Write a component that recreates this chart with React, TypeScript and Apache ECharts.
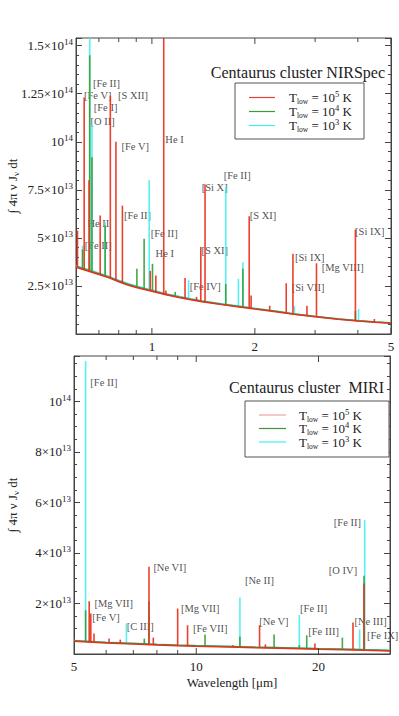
import React, { useEffect, useRef } from 'react';
import * as echarts from 'echarts';

// ---------------- data (wavelength in µm, flux in units of 1e13) ----------------
const nirContHot = [[0.6,3.47],[0.65,3.28],[0.7,3.1],[0.75,2.92],[0.8,2.72],[0.85,2.55],[0.9,2.42],[1.0,2.22],[1.1,2.04],[1.2,1.9],[1.3,1.78],[1.4,1.68],[1.6,1.53],[1.8,1.41],[2.0,1.3],[2.3,1.16],[2.6,1.03],[3.0,0.9],[3.5,0.77],[4.0,0.68],[4.5,0.61],[5.0,0.56]];
const nirContWarm = [[0.6,3.51],[0.65,3.32],[0.7,3.14],[0.75,2.96],[0.8,2.76],[0.85,2.59],[0.9,2.46],[1.0,2.25],[1.1,2.07],[1.2,1.93],[1.3,1.81],[1.4,1.7],[1.6,1.55],[1.8,1.43],[2.0,1.32],[2.3,1.18],[2.6,1.04],[3.0,0.91],[3.5,0.78],[4.0,0.69],[4.5,0.62],[5.0,0.57]];
const nirContCool = [[0.6,3.55],[0.65,3.36],[0.7,3.18],[0.75,3.0],[0.8,2.8],[0.85,2.63],[0.9,2.5],[1.0,2.29],[1.1,2.1],[1.2,1.96],[1.3,1.84],[1.4,1.73],[1.6,1.58],[1.8,1.46],[2.0,1.34],[2.3,1.2],[2.6,1.06],[3.0,0.93],[3.5,0.8],[4.0,0.7],[4.5,0.63],[5.0,0.58]];

// [wavelength, base, T=1e5, T=1e4, T=1e3]  (0 = no line)
const nirLines = [
  [0.606, 3.44, 5.38, 0, 0],
  [0.627, 3.36, 0, 4.4, 4.6],
  [0.634, 3.33, 12.3, 0, 0],
  [0.655, 3.26, 8.0, 0, 0],
  [0.658, 3.25, 0, 14.5, 16.5],
  [0.668, 3.21, 0, 9.2, 10.9],
  [0.706, 3.08, 6.16, 0, 0],
  [0.730, 3.0, 0, 5.64, 5.8],
  [0.756, 2.92, 12.4, 0, 0],
  [0.785, 2.8, 10.0, 0, 0],
  [0.820, 2.67, 6.68, 0, 0],
  [0.904, 2.41, 0, 3.39, 0],
  [0.949, 2.32, 0, 4.95, 0],
  [0.982, 2.25, 0, 0, 8.0],
  [0.989, 2.24, 3.28, 0, 0],
  [1.004, 2.21, 0, 3.65, 0],
  [1.027, 2.17, 3.04, 0, 0],
  [1.083, 2.07, 16.5, 0, 0],
  [1.099, 2.05, 2.26, 0, 0],
  [1.17, 1.94, 0, 2.19, 0],
  [1.25, 1.84, 2.92, 0, 0],
  [1.28, 1.81, 0, 0, 2.8],
  [1.35, 1.73, 1.93, 0, 0],
  [1.39, 1.70, 4.52, 0, 0],
  [1.43, 1.66, 7.78, 0, 0],
  [1.644, 1.52, 0, 2.6, 7.66],
  [1.79, 1.43, 0, 0, 2.87],
  [1.845, 1.40, 0, 3.4, 3.73],
  [1.925, 1.35, 6.13, 0, 0],
  [1.95, 1.34, 2.0, 0, 0],
  [2.21, 1.22, 1.47, 0, 0],
  [2.47, 1.10, 2.64, 0, 0],
  [2.584, 1.06, 4.17, 0, 0],
  [2.61, 1.05, 0, 0, 1.46],
  [2.84, 0.96, 1.47, 0, 0],
  [3.028, 0.9, 3.68, 0, 0],
  [3.935, 0.69, 5.43, 1.2, 0],
  [4.02, 0.68, 0, 0, 1.3],
  [4.47, 0.61, 0.78, 0, 0],
];

const nirLabels: [number, number, string][] = [
  [0.670, 13.05, '[Fe II]'],
  [0.631, 12.40, '[Fe V]'],
  [0.793, 12.40, '[S XII]'],
  [0.674, 11.79, '[Fe I]'],
  [0.659, 11.06, '[O II]'],
  [0.812, 9.73, '[Fe V]'],
  [1.091, 10.11, 'He I'],
  [0.826, 6.16, '[Fe II]'],
  [0.646, 5.73, 'He II'],
  [0.989, 5.21, '[Fe II]'],
  [0.634, 4.60, '[Fe II]'],
  [1.022, 4.17, 'He I'],
  [1.616, 8.25, '[Fe II]'],
  [1.394, 7.64, '[Si X]'],
  [1.925, 6.16, '[S XI]'],
  [1.391, 4.34, '[S XI]'],
  [1.285, 2.45, '[Fe IV]'],
  [2.612, 4.0, '[Si IX]'],
  [3.126, 3.47, '[Mg VIII]'],
  [2.555, 2.43, '[Si VII]'],
  [3.912, 5.33, '[Si IX]'],
];

const miriContHot = [[5,0.5],[6,0.44],[7,0.4],[8,0.36],[9,0.33],[10,0.31],[12,0.28],[14,0.25],[16,0.23],[18,0.21],[20,0.19],[23,0.17],[26,0.145],[30,0.12]];
const miriContWarm = [[5,0.52],[6,0.46],[7,0.42],[8,0.38],[9,0.35],[10,0.33],[12,0.3],[14,0.27],[16,0.25],[18,0.23],[20,0.21],[23,0.19],[26,0.165],[30,0.14]];
const miriContCool = [[5,0.53],[6,0.47],[7,0.43],[8,0.39],[9,0.36],[10,0.34],[12,0.31],[14,0.28],[16,0.26],[18,0.24],[20,0.22],[23,0.2],[26,0.175],[30,0.15]];

const miriLines = [
  [5.34, 0.5, 0, 1.73, 11.6],
  [5.45, 0.49, 2.09, 0, 0],
  [5.50, 0.49, 1.6, 0, 0],
  [5.60, 0.48, 0.81, 0, 0],
  [6.10, 0.45, 0.61, 0, 0],
  [6.50, 0.42, 0.57, 0, 0],
  [6.73, 0.41, 0, 0, 1.21],
  [7.45, 0.38, 0, 0.61, 0.5],
  [7.65, 0.37, 3.45, 2.08, 0],
  [7.84, 0.36, 0.65, 0, 0],
  [9.0, 0.33, 1.8, 0, 0],
  [9.52, 0.32, 1.14, 0, 0],
  [10.51, 0.3, 0, 0.77, 0],
  [12.3, 0.28, 0.35, 0, 0],
  [12.81, 0.27, 0, 0.68, 2.24],
  [14.32, 0.25, 1.14, 0, 0],
  [14.8, 0.245, 0.38, 0, 0],
  [15.55, 0.235, 0, 0.77, 0],
  [17.94, 0.21, 0, 0.35, 1.54],
  [18.71, 0.2, 0, 0.74, 0],
  [19.6, 0.195, 0.42, 0, 0],
  [22.9, 0.17, 0, 0.65, 0],
  [24.32, 0.16, 1.25, 0, 0],
  [25.25, 0.155, 0, 0, 0.97],
  [25.89, 0.15, 2.79, 3.1, 0],
  [25.99, 0.15, 0, 0, 5.3],
];

const miriLabels: [number, number, string][] = [
  [5.47, 10.75, '[Fe II]'],
  [5.60, 2.0, '[Mg VII]'],
  [5.53, 1.43, '[Fe V]'],
  [6.72, 1.08, '[C III]'],
  [7.82, 3.43, '[Ne VI]'],
  [9.14, 1.80, '[Mg VII]'],
  [9.79, 1.01, '[Fe VII]'],
  [13.15, 2.92, '[Ne II]'],
  [14.26, 1.30, '[Ne V]'],
  [17.97, 1.80, '[Fe II]'],
  [18.82, 0.88, '[Fe III]'],
  [21.15, 3.29, '[O IV]'],
  [21.76, 5.21, '[Fe II]'],
  [24.45, 1.28, '[Ne III]'],
  [26.26, 0.72, '[Fe IX]'],
];

const nirXTicks = [0.7, 0.8, 0.9, 1, 2, 3, 4, 5];
const nirXTickLabels = [1, 2, 5];
const miriXTicks = [6, 7, 8, 9, 10, 20];
const miriXTickLabels = [5, 10, 20];
const legendExponents = ['5', '4', '3'];
const titles = ['Centaurus cluster NIRSpec', 'Centaurus cluster\u00a0 MIRI'];

// ---------------- layout & style ----------------
const FONT = '"Liberation Serif", "Times New Roman", "DejaVu Serif", serif';
const INK = '#222';
const AXIS = '#444';
const RED = '#e8301c';
const GREEN = '#35a03a';
const CYAN = '#46f0f0';
const GRIDS = [
  { left: 76, top: 38, width: 315, height: 296 },
  { left: 74, top: 356, width: 316, height: 298 },
];
const NAME_GAPS = [56, 54];
const XR = [[0.6, 5], [5, 30]];
const YMAX = [15.4, 11.8];
const YINT = [2.5, 2];
const YMINOR = [5, 4];

function yFmt(interval: number) {
  return (v: number) => {
    if (v <= 0) return '';
    const k = v / interval;
    if (Math.abs(k - Math.round(k)) > 1e-6) return '';
    const val = v * 1e13;
    const e = Math.floor(Math.log10(val) + 1e-9);
    const m = Math.round((val / Math.pow(10, e)) * 100) / 100;
    return m === 1 ? `{b|10}{s|${e}}` : `{b|${m}×10}{s|${e}}`;
  };
}

const yRich = {
  b: { fontSize: 13, fontFamily: FONT, color: INK, lineHeight: 16 },
  s: { fontSize: 9, fontFamily: FONT, color: INK, lineHeight: 8, verticalAlign: 'top' },
};

function spikeRender(color: string) {
  return (params: any, api: any) => {
    const x = api.value(0);
    const p0 = api.coord([x, api.value(1)]);
    const p1 = api.coord([x, api.value(2)]);
    return {
      type: 'line',
      shape: { x1: p0[0], y1: p0[1], x2: p1[0], y2: p1[1] },
      style: { stroke: color, lineWidth: 1.6, opacity: 0.92 },
    };
  };
}

function panelSeries(i: number, conts: number[][][], lines: number[][], labels: [number, number, string][]) {
  const colors = [CYAN, GREEN, RED];
  const cols = [4, 3, 2];
  const out: any[] = [];
  out.push({
    type: 'scatter', xAxisIndex: i, yAxisIndex: i * 2, z: 1, silent: true,
    symbolSize: 1, itemStyle: { color: 'rgba(0,0,0,0)' },
    data: labels.map(([x, y, t]) => ({ value: [x, y], name: t })),
    label: { show: true, position: 'right', distance: 0, formatter: '{b}', color: INK, fontSize: 10.5, fontFamily: FONT },
  });
  colors.forEach((c, k) => {
    out.push({
      type: 'line', xAxisIndex: i, yAxisIndex: i * 2, z: 2 + k, silent: true,
      data: conts[k], showSymbol: false, symbol: 'none',
      lineStyle: { color: c, width: 1.5 },
    });
    out.push({
      type: 'custom', xAxisIndex: i, yAxisIndex: i * 2, z: 2 + k, silent: true, clip: true,
      data: lines.filter((r) => r[cols[k]] > 0).map((r) => [r[0], r[1], r[cols[k]]]),
      encode: { x: 0, y: [1, 2] },
      renderItem: spikeRender(c),
    });
  });
  return out;
}

function buildOption() {
  const xAxis = [0, 1].map((i) => ({
    type: 'log', logBase: 10, gridIndex: i, min: XR[i][0], max: XR[i][1],
    axisLine: { show: true, lineStyle: { color: AXIS, width: 1 } },
    axisTick: { show: false }, axisLabel: { show: false }, splitLine: { show: false },
    minorTick: { show: false },
    name: i === 1 ? 'Wavelength [μm]' : '',
    nameLocation: 'middle', nameGap: 22, nameMoveOverlap: false,
    nameTextStyle: { fontSize: 13, fontFamily: FONT, color: INK },
  }));
  const yAxis: any[] = [];
  [0, 1].forEach((i) => {
    const common = {
      type: 'value', gridIndex: i, min: 0, max: YMAX[i], interval: YINT[i],
      axisLine: { show: true, lineStyle: { color: AXIS, width: 1 } },
      axisTick: { show: true, inside: true, length: 6, lineStyle: { color: AXIS } },
      minorTick: { show: true, splitNumber: YMINOR[i], length: 3, lineStyle: { color: AXIS } },
      splitLine: { show: false }, minorSplitLine: { show: false },
    };
    yAxis.push({
      ...common, position: 'left',
      axisLabel: { formatter: yFmt(YINT[i]), rich: yRich, margin: 3, showMaxLabel: false },
      name: '{a|∫ 4π ν J}{s|ν}{a| dt}', nameLocation: 'middle', nameRotate: 90,
      nameGap: NAME_GAPS[i], nameMoveOverlap: false,
      nameTextStyle: {
        rich: {
          a: { fontSize: 13, fontFamily: FONT, color: INK, lineHeight: 16 },
          s: { fontSize: 9, fontFamily: FONT, color: INK, lineHeight: 8, verticalAlign: 'bottom' },
        },
      },
    });
    yAxis.push({ ...common, position: 'right', axisLabel: { show: false } });
  });
  return {
    animation: false,
    backgroundColor: '#fff',
    grid: GRIDS.map((g) => ({
      ...g, show: true, borderColor: AXIS, borderWidth: 1, backgroundColor: 'transparent',
      containLabel: false, outerBoundsMode: 'none',
    })),
    xAxis, yAxis,
    series: [
      ...panelSeries(0, [nirContCool, nirContWarm, nirContHot], nirLines, nirLabels),
      ...panelSeries(1, [miriContCool, miriContWarm, miriContHot], miriLines, miriLabels),
    ],
  };
}

function legendGraphics(box: { x: number; y: number; w: number; h: number }, lineX: [number, number], textX: number, rows: number[], colors: string[]) {
  const els: any[] = [];
  els.push({ type: 'rect', shape: { x: box.x, y: box.y, width: box.w, height: box.h }, style: { fill: '#fff', stroke: '#555', lineWidth: 1 }, z: 20, silent: true });
  rows.forEach((y, k) => {
    els.push({ type: 'line', shape: { x1: lineX[0], y1: y, x2: lineX[1], y2: y }, style: { stroke: colors[k], lineWidth: 1.2 }, z: 21, silent: true });
    els.push({
      type: 'text', x: textX, y, z: 21, silent: true,
      style: {
        text: `{a|T}{sub|low}{a| = 10}{sup|${legendExponents[k]}}{a| K}`,
        verticalAlign: 'middle', align: 'left',
        rich: {
          a: { fontSize: 13, fontFamily: FONT, fill: INK, lineHeight: 16 },
          sub: { fontSize: 7.5, fontFamily: FONT, fill: INK, lineHeight: 9, verticalAlign: 'bottom' },
          sup: { fontSize: 8.5, fontFamily: FONT, fill: INK, lineHeight: 8, verticalAlign: 'top' },
        },
      },
    });
  });
  return els;
}

function buildGraphics(chart: any) {
  const els: any[] = [];
  const panels = [
    { ticks: nirXTicks, labels: nirXTickLabels },
    { ticks: miriXTicks, labels: miriXTickLabels },
  ];
  panels.forEach((p, i) => {
    const g = GRIDS[i];
    const bottom = g.top + g.height;
    p.ticks.forEach((t) => {
      const px = chart.convertToPixel({ xAxisIndex: i }, t);
      const len = p.labels.includes(t) ? 6 : 4;
      els.push({ type: 'line', shape: { x1: px, y1: bottom, x2: px, y2: bottom - len }, style: { stroke: AXIS, lineWidth: 1 }, silent: true, z: 15 });
      els.push({ type: 'line', shape: { x1: px, y1: g.top, x2: px, y2: g.top + len }, style: { stroke: AXIS, lineWidth: 1 }, silent: true, z: 15 });
    });
    p.labels.forEach((t) => {
      const px = chart.convertToPixel({ xAxisIndex: i }, t);
      els.push({ type: 'text', x: px, y: bottom + 12, silent: true, style: { text: String(t), align: 'center', verticalAlign: 'middle', fontSize: 13, fontFamily: FONT, fill: INK } });
    });
  });
  els.push({ type: 'text', x: 385, y: 72, silent: true, z: 20, style: { text: titles[0], align: 'right', verticalAlign: 'middle', fontSize: 16, fontFamily: FONT, fill: INK } });
  els.push({ type: 'text', x: 384, y: 387, silent: true, z: 20, style: { text: titles[1], align: 'right', verticalAlign: 'middle', fontSize: 16, fontFamily: FONT, fill: INK } });
  els.push(...legendGraphics({ x: 235, y: 83, w: 129, h: 56 }, [249, 275], 289, [97.5, 111.5, 125.5], ['#e04040', '#3a9a3a', '#40f0f0']));
  els.push(...legendGraphics({ x: 245, y: 401, w: 144, h: 56 }, [259, 286], 299, [415, 428.5, 442], ['#f4a0a0', '#3a9a3a', '#40f0f0']));
  return els;
}

export default function App() {
  const ref = useRef<HTMLDivElement>(null);
  useEffect(() => {
    const chart = echarts.init(ref.current!, null, { renderer: 'svg' });
    chart.setOption(buildOption() as any);
    chart.setOption({ graphic: buildGraphics(chart) } as any);
    return () => chart.dispose();
  }, []);
  return <div ref={ref} style={{ position: 'fixed', left: 0, top: 0, width: 399, height: 716, background: '#fff' }} />;
}
